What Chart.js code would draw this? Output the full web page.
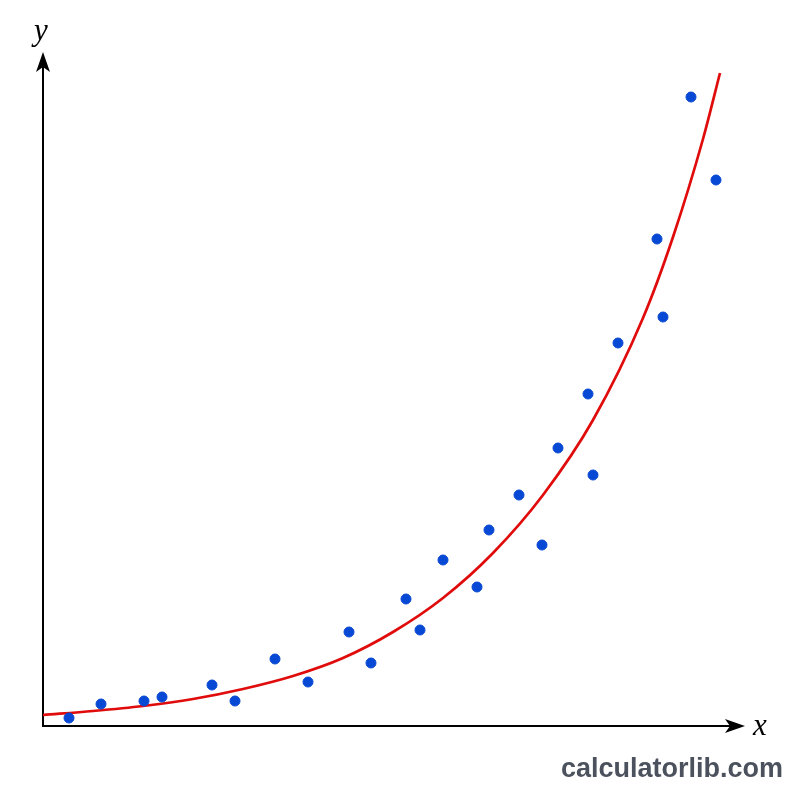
<!DOCTYPE html>
<html>
<head>
<meta charset="utf-8">
<script src="https://cdn.jsdelivr.net/npm/chart.js@4/dist/chart.umd.min.js"></script>
<style>
  html, body { margin: 0; padding: 0; background: #fff; }
  #wrap { position: relative; width: 800px; height: 800px; }
  .axisLabel { position: absolute; font-family: "Liberation Serif", "DejaVu Serif", serif; font-style: italic; font-size: 31px; color: #000; }
  #brand { position: absolute; right: 17px; top: 753px; font-family: "Liberation Sans", Arial, sans-serif; font-weight: bold; font-size: 27px; color: #4b515d; }
</style>
</head>
<body>
<div id="wrap">
  <canvas id="myChart" width="800" height="800"></canvas>
  <div class="axisLabel" style="left:34px; top:12px;">y</div>
  <div class="axisLabel" style="left:753px; top:707px;">x</div>
  <div id="brand">calculatorlib.com</div>
</div>
<script>
// observed points (x, y)
const pointX = [2.6, 5.8, 10.1, 11.9, 16.9, 19.2, 23.2, 26.5, 30.6, 32.8, 36.3, 37.7, 40.0, 43.4, 44.6, 47.6, 49.9, 51.5, 54.5, 55.0, 57.5, 61.4, 62.0, 64.8, 67.3];
const pointY = [0.8, 2.2, 2.5, 2.9, 4.1, 2.5, 6.7, 4.4, 9.4, 6.3, 12.7, 9.6, 16.6, 13.9, 19.6, 23.1, 18.1, 27.8, 33.2, 25.1, 38.3, 48.7, 40.9, 62.9, 54.6];

// fitted curve
const curveX = [0, 5, 10, 15, 20, 25, 30, 35, 40, 45, 50, 55, 60, 63, 66, 67.7];
const curveY = [1.1, 1.5, 2.0, 2.7, 3.7, 5.0, 6.8, 9.4, 12.8, 17.3, 23.1, 30.6, 40.8, 48.9, 58.7, 65.3];

const xMax = 70.2;
const yMax = 67.4;

//draws the two axes with arrow heads
const axesPlugin = {
    id: 'axes',
    beforeDatasetsDraw(chart) {
        const ctx = chart.ctx;
        const a = chart.chartArea;
        ctx.save();
        ctx.strokeStyle = '#000';
        ctx.fillStyle = '#000';
        ctx.lineWidth = 2;
        ctx.beginPath();
        ctx.moveTo(a.left, a.top + 14);
        ctx.lineTo(a.left, a.bottom);
        ctx.lineTo(a.right - 14, a.bottom);
        ctx.stroke();
        // y arrow
        ctx.beginPath();
        ctx.moveTo(a.left, a.top);
        ctx.lineTo(a.left - 7, a.top + 20);
        ctx.lineTo(a.left, a.top + 15);
        ctx.lineTo(a.left + 7, a.top + 20);
        ctx.closePath();
        ctx.fill();
        // x arrow
        ctx.beginPath();
        ctx.moveTo(a.right, a.bottom);
        ctx.lineTo(a.right - 20, a.bottom - 7);
        ctx.lineTo(a.right - 15, a.bottom);
        ctx.lineTo(a.right - 20, a.bottom + 7);
        ctx.closePath();
        ctx.fill();
        ctx.restore();
    }
};

const chart = document.getElementById('myChart');
new Chart(chart, {
    type: 'scatter',
    data: {
        datasets: [{
            label: 'fit',
            data: curveX.map((x, i) => ({x: x, y: curveY[i]})),
            showLine: true,
            borderColor: '#e00b0b',
            borderWidth: 2.7,
            pointRadius: 0,
            cubicInterpolationMode: 'monotone',
            order: 2
        }, {
            label: 'data',
            data: pointX.map((x, i) => ({x: x, y: pointY[i]})),
            backgroundColor: '#0748d4',
            borderColor: '#0748d4',
            pointRadius: 5,
            order: 1
        }]
    },
    options: {
        responsive: false,
        animation: false,
        layout: { padding: { left: 43, top: 52, right: 55, bottom: 74 } },
        plugins: { legend: { display: false }, tooltip: { enabled: false } },
        scales: {
            x: { type: 'linear', min: 0, max: xMax, display: false },
            y: { type: 'linear', min: 0, max: yMax, display: false }
        }
    },
    plugins: [axesPlugin]
});
</script>
</body>
</html>
